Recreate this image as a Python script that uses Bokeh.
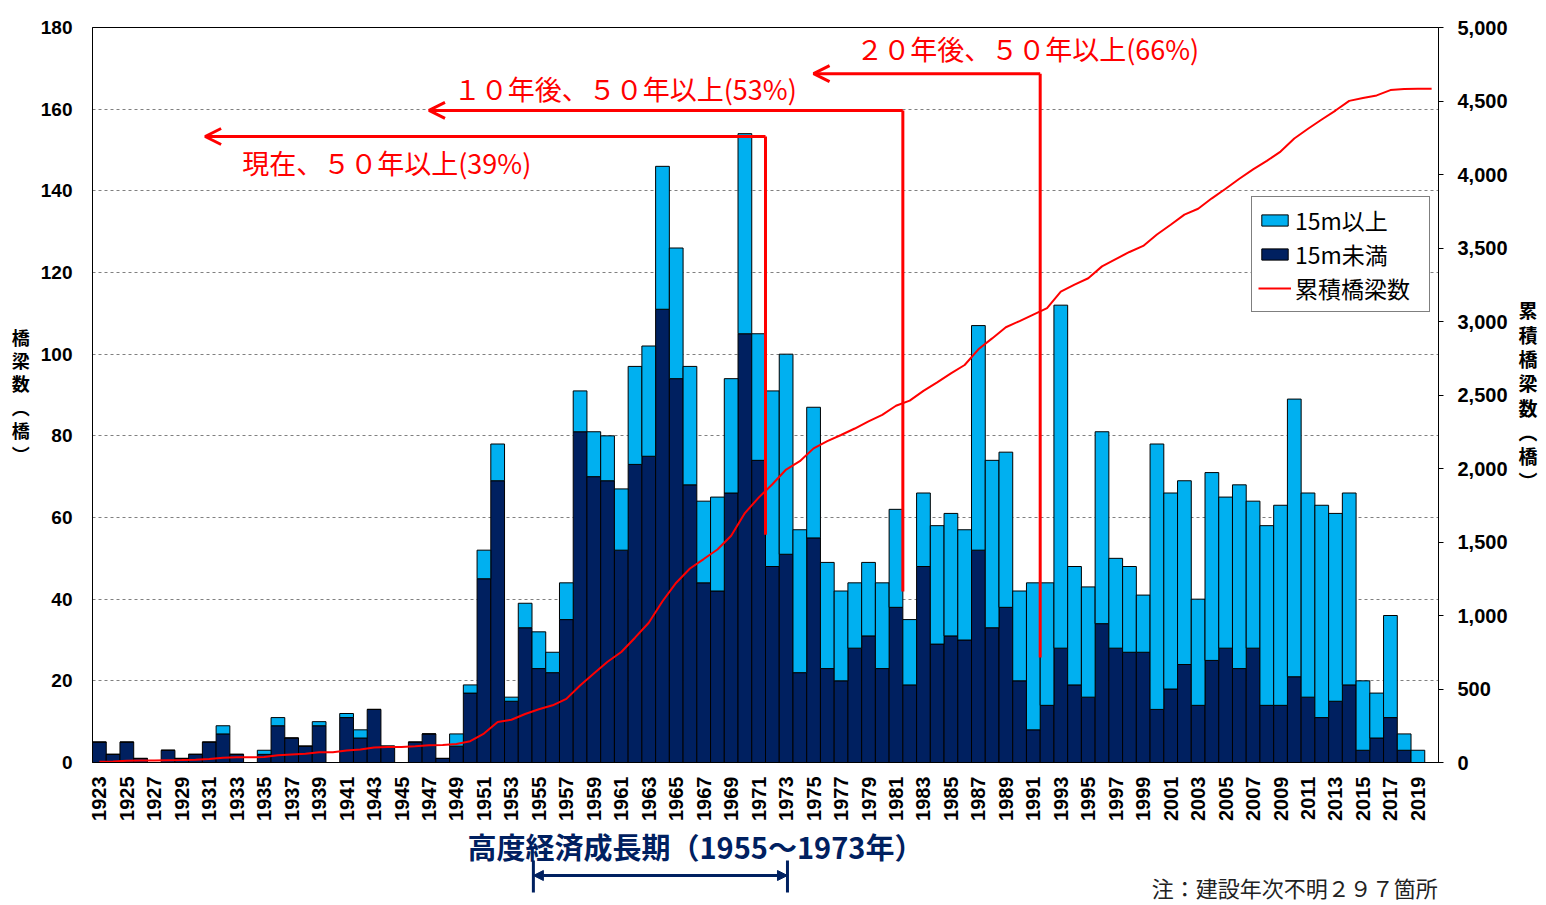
import numpy as np
from math import pi
from bokeh.plotting import figure
from bokeh.layouts import column
from bokeh.models import (Range1d, LinearAxis, FixedTicker, NumeralTickFormatter,
                          Legend, LegendItem, Label, Arrow, OpenHead, NormalHead,
                          ColumnDataSource)
from bokeh.embed import file_html
from bokeh.resources import INLINE

# ---------------- data ----------------
years = list(range(1923, 2021))
# bridges shorter than 15 m (dark)
under_15m = [5, 2, 5, 1, 0, 3, 1, 2, 5, 7,
             2, 0, 2, 9, 6, 4, 9, 0, 11, 6,
             13, 4, 0, 5, 7, 1, 4, 17, 45, 69,
             15, 33, 23, 22, 35, 81, 70, 69, 52, 73,
             75, 111, 94, 68, 44, 42, 66, 105, 74, 48,
             51, 22, 55, 23, 20, 28, 31, 23, 38, 19,
             48, 29, 31, 30, 52, 33, 38, 20, 8, 14,
             28, 19, 16, 34, 28, 27, 27, 13, 18, 24,
             14, 25, 28, 23, 28, 14, 14, 21, 16, 11,
             15, 19, 3, 6, 11, 3, 0, 0]
# bridges 15 m or longer (light)
over_15m = [0, 0, 0, 0, 0, 0, 0, 0, 0, 2,
            0, 0, 1, 2, 0, 0, 1, 0, 1, 2,
            0, 0, 0, 0, 0, 0, 3, 2, 7, 9,
            1, 6, 9, 5, 9, 10, 11, 11, 15, 24,
            27, 35, 32, 29, 20, 23, 28, 49, 31, 43,
            49, 35, 32, 26, 22, 16, 18, 21, 24, 16,
            18, 29, 30, 27, 55, 41, 38, 22, 36, 30,
            84, 29, 27, 47, 22, 21, 14, 65, 48, 45,
            26, 46, 37, 45, 36, 44, 49, 68, 50, 52,
            46, 47, 17, 11, 25, 4, 3, 0]
x_tick_years = list(range(1923, 2020, 2))
left_ticks = list(range(0, 181, 20))
right_ticks = list(range(0, 5001, 500))

total = [a + b for a, b in zip(under_15m, over_15m)]
cumulative = np.cumsum(total).tolist()

src = ColumnDataSource(dict(year=years, under=under_15m, total=total, cum=cumulative))

# ---------------- figure ----------------
JP = "Noto Sans CJK JP"
NUM = "Liberation Sans"
RED = "#FF0000"
NAVY = "#002060"

W = 1540
BL, BR, BT = 92, 97, 27
X0, X1 = 1922.5, 2020.5

p = figure(width=W, height=823,
           x_range=Range1d(X0, X1), y_range=Range1d(0, 180),
           output_backend="svg", toolbar_location=None,
           min_border_left=BL, min_border_right=BR,
           min_border_top=BT, min_border_bottom=60,
           background_fill_color="white", border_fill_color="white")
p.outline_line_color = "black"
p.outline_line_width = 1

p.extra_y_ranges = {"cum": Range1d(0, 5000)}

# grid
p.xgrid.visible = False
p.ygrid.ticker = FixedTicker(ticks=left_ticks)
p.ygrid.grid_line_color = "#808080"
p.ygrid.grid_line_dash = "3 3"
p.ygrid.grid_line_width = 1

# x axis
xa = p.xaxis[0]
xa.ticker = FixedTicker(ticks=x_tick_years)
xa.major_label_orientation = pi / 2
xa.major_label_text_font = NUM
xa.major_label_text_font_style = "bold"
xa.major_label_text_font_size = "20px"
xa.major_label_text_color = "black"
xa.major_tick_line_color = None
xa.minor_tick_line_color = None
xa.major_tick_out = 0
xa.major_tick_in = 0
xa.major_label_standoff = 14
xa.axis_line_color = "black"

# left axis
ya = p.yaxis[0]
ya.ticker = FixedTicker(ticks=left_ticks)
ya.major_label_text_font = NUM
ya.major_label_text_font_style = "bold"
ya.major_label_text_font_size = "19px"
ya.major_label_text_color = "black"
ya.major_tick_line_color = None
ya.minor_tick_line_color = None
ya.major_tick_out = 0
ya.major_tick_in = 0
ya.major_label_standoff = 20
ya.axis_line_color = "black"
ya.axis_label = "橋\n梁\n数\n︵\n橋\n︶"
ya.axis_label_orientation = "horizontal"
ya.axis_label_text_font = JP
ya.axis_label_text_font_style = "bold"
ya.axis_label_text_font_size = "18px"
ya.axis_label_text_line_height = 0.9
ya.axis_label_text_color = "black"
ya.axis_label_standoff = 8

# right axis
ra = LinearAxis(y_range_name="cum", ticker=FixedTicker(ticks=right_ticks),
                formatter=NumeralTickFormatter(format="0,0"))
ra.major_label_text_font = NUM
ra.major_label_text_font_style = "bold"
ra.major_label_text_font_size = "20px"
ra.major_label_text_color = "black"
ra.major_tick_out = 5
ra.major_tick_in = 0
ra.major_tick_line_color = "black"
ra.minor_tick_line_color = None
ra.major_label_standoff = 14
ra.axis_line_color = "black"
ra.axis_label = "累\n積\n橋\n梁\n数\n︵\n橋\n︶"
ra.axis_label_orientation = "horizontal"
ra.axis_label_text_font = JP
ra.axis_label_text_font_style = "bold"
ra.axis_label_text_font_size = "19px"
ra.axis_label_text_line_height = 0.9
ra.axis_label_text_color = "black"
ra.axis_label_standoff = 8
p.add_layout(ra, "right")

# ---------------- bars & line ----------------
r_dark = p.vbar(x="year", width=1.0, bottom=0, top="under", source=src,
                fill_color=NAVY, line_color="black", line_width=1)
r_light = p.vbar(x="year", width=1.0, bottom="under", top="total", source=src,
                 fill_color="#00B0F0", line_color="black", line_width=1)
r_line = p.line(x="year", y="cum", source=src, y_range_name="cum",
                line_color=RED, line_width=2)

legend = Legend(items=[LegendItem(label="15m以上", renderers=[r_light]),
                       LegendItem(label="15m未満", renderers=[r_dark]),
                       LegendItem(label="累積橋梁数", renderers=[r_line])],
                location=(1159, 450))
legend.label_text_font = JP
legend.label_text_font_size = "23px"
legend.label_text_color = "black"
legend.glyph_width = 33
legend.glyph_height = 14
legend.label_height = 32
legend.label_width = 128
legend.label_standoff = 4
legend.spacing = 0
legend.padding = 6
legend.margin = 0
legend.border_line_color = "black"
legend.border_line_width = 1.5
legend.background_fill_color = "white"
legend.background_fill_alpha = 1
p.add_layout(legend)

# ---------------- red annotations ----------------
def red_arrow(xv, y_bottom, y_top, x_head):
    p.add_layout(Arrow(x_start=xv, y_start=y_bottom, x_end=xv, y_end=y_top, end=None,
                       line_color=RED, line_width=3))
    p.add_layout(Arrow(x_start=xv, y_start=y_top, x_end=x_head, y_end=y_top,
                       end=OpenHead(size=16, line_color=RED, line_width=3),
                       line_color=RED, line_width=3))

red_arrow(1971.5, 55.8, 153.3, 1930.7)
red_arrow(1981.5, 41.9, 159.7, 1947.0)
red_arrow(1991.5, 25.7, 168.7, 1975.0)

def red_text(x, y, t):
    p.add_layout(Label(x=x, y=y, text=t, text_font=JP, text_font_size="27px",
                       text_color=RED, text_align="left", text_baseline="middle"))

red_text(1978.1, 174.9, "２０年後、５０年以上(66%)")
red_text(1948.8, 165.1, "１０年後、５０年以上(53%)")
red_text(1933.4, 147.0, "現在、５０年以上(39%)")

# ---------------- bottom strip (same frame and x scale as the chart) ----------------
H2 = 80
p2 = figure(width=W, height=H2,
            x_range=Range1d(X0, X1), y_range=Range1d(0, H2),
            output_backend="svg", toolbar_location=None,
            x_axis_type=None, y_axis_type=None,
            min_border_left=BL, min_border_right=BR, min_border_top=0, min_border_bottom=0,
            background_fill_color="white", border_fill_color="white")
p2.outline_line_color = None

p2.add_layout(Label(x=1966.4, y=58, text="高度経済成長期（1955～1973年）",
                    text_font=JP, text_font_style="bold", text_font_size="29px",
                    text_color=NAVY, text_align="center", text_baseline="middle"))
p2.add_layout(Arrow(x_start=1954.6, y_start=28, x_end=1973.1, y_end=28,
                    start=NormalHead(size=10, fill_color=NAVY, line_color=NAVY),
                    end=NormalHead(size=10, fill_color=NAVY, line_color=NAVY),
                    line_color=NAVY, line_width=3))
for xe in (1954.6, 1973.1):
    p2.add_layout(Arrow(x_start=xe, y_start=43, x_end=xe, y_end=11, end=None,
                        line_color=NAVY, line_width=3))
p2.add_layout(Label(x=X1 - 0.05, y=17, text="注：建設年次不明２９７箇所",
                    text_font=JP, text_font_size="22px", text_color="#222222",
                    text_align="right", text_baseline="middle"))

layout = column(p, p2, spacing=0)
open("out.html", "w").write(file_html(layout, INLINE))
